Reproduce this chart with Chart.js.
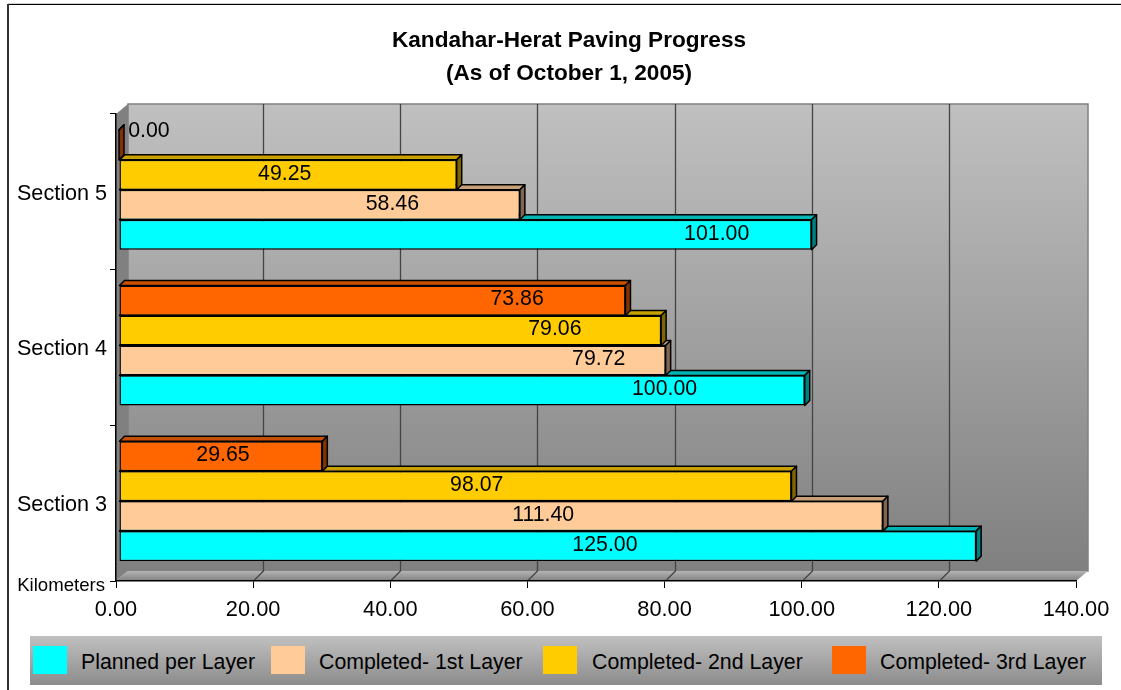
<!DOCTYPE html>
<html>
<head>
<meta charset="utf-8">
<title>Kandahar-Herat Paving Progress</title>
<script src="https://cdn.jsdelivr.net/npm/chart.js@4"></script>
<style>
  html, body { margin: 0; background: #fff; }
  body { position: relative; width: 1121px; height: 690px; overflow: hidden; font-family: "Liberation Sans", Arial, sans-serif; }
  canvas { position: absolute; left: 0; top: 0; }
  #legend { position: absolute; left: 30px; top: 636px; width: 1072px; height: 49px; background: linear-gradient(#c0c0c0, #8c8c8c); }
  #legend i { position: absolute; top: 10px; width: 34px; height: 28px; }
  #legend span { position: absolute; top: 13px; font-size: 21.3px; line-height: 26px; white-space: nowrap; color: #000; }
</style>
</head>
<body>
<canvas id="chart" width="1121" height="690"></canvas>
<div id="legend"></div>
<script>
// data, bottom section first
const sections = ['Section 3', 'Section 4', 'Section 5']
const planned = [125.00, 100.00, 101.00]
const firstLayer = [111.40, 79.72, 58.46]
const secondLayer = [98.07, 79.06, 49.25]
const thirdLayer = [29.65, 73.86, 0.00]
const seriesNames = ['Planned per Layer', 'Completed- 1st Layer', 'Completed- 2nd Layer', 'Completed- 3rd Layer']
const xTicks = [0, 20, 40, 60, 80, 100, 120, 140]

// colours: front, top face, side face
const fronts = ['#00ffff', '#ffcc99', '#ffcc00', '#ff6600']
const tops = ['#00b4b4', '#c8a078', '#c8a000', '#c85000']
const sides = ['#008080', '#806650', '#806600', '#803300']

// where the value labels sit, in km along the axis (hand placed in the original)
const labelSpots = [
  [71.3, 80.0, 87.6],
  [62.3, 70.4, 40.3],
  [52.6, 64.0, 24.6],
  [15.6, 58.5, 4.8]
]

const FONT = '"Liberation Sans", Arial, sans-serif'
const BAR_DX = 3, BAR_DY = -2, DEPTH = 5

const poly = (ctx, points, fill, stroke) => {
  ctx.beginPath()
  points.forEach((p, i) => i ? ctx.lineTo(p[0], p[1]) : ctx.moveTo(p[0], p[1]))
  ctx.closePath()
  if (fill) { ctx.fillStyle = fill; ctx.fill() }
  if (stroke) { ctx.strokeStyle = stroke; ctx.stroke() }
}

// frame, back wall, side wall, floor
const wallsPlugin = {
  id: 'walls',
  beforeDraw(chart) {
    const { ctx, chartArea: a, scales } = chart
    const dx = 12, dy = 10
    ctx.save()
    ctx.fillStyle = '#d0d0d0'
    ctx.fillRect(8, 3, 1113, 1)
    ctx.fillStyle = '#000'
    ctx.fillRect(8, 4, 1113, 1)
    ctx.fillStyle = '#333'
    ctx.fillRect(7, 4, 2, 686)

    const wall = ctx.createLinearGradient(0, a.top - dy, 0, a.bottom - dy)
    wall.addColorStop(0, '#c0c0c0')
    wall.addColorStop(1, '#808080')
    ctx.fillStyle = wall
    ctx.fillRect(a.left + dx, a.top - dy, a.width, a.height)
    ctx.strokeStyle = '#808080'
    ctx.lineWidth = 1.5
    ctx.strokeRect(a.left + dx, a.top - dy, a.width, a.height)

    poly(ctx, [[a.left, a.top], [a.left + dx, a.top - dy], [a.left + dx, a.bottom - dy], [a.left, a.bottom]], '#808080')
    const floor = ctx.createLinearGradient(0, a.bottom - dy, 0, a.bottom)
    floor.addColorStop(0, '#b4b4b4')
    floor.addColorStop(1, '#808080')
    poly(ctx, [[a.left, a.bottom], [a.left + dx, a.bottom - dy], [a.right + dx, a.bottom - dy], [a.right, a.bottom]], floor)

    ctx.strokeStyle = '#444'
    ctx.lineWidth = 1.3
    xTicks.slice(1, -1).forEach(v => {
      const x = Math.round(scales.x.getPixelForValue(v)) + 0.5
      ctx.beginPath()
      ctx.moveTo(x + 10, a.top - dy)
      ctx.lineTo(x + 10, a.bottom - dy)
      ctx.lineTo(x, a.bottom)
      ctx.stroke()
    })
    ctx.restore()
  }
}

// series index of a dataset: the chart stacks them top to bottom, so 3rd layer comes first
const seriesOf = datasetIndex => seriesNames.length - 1 - datasetIndex

// top and side faces go behind the chart's own bars, the value labels on top
const barsPlugin = {
  id: 'bars3d',
  beforeDatasetsDraw(chart) {
    const { ctx } = chart
    ctx.save()
    ctx.translate(BAR_DX, BAR_DY)
    ctx.lineWidth = 1.5
    ctx.lineJoin = 'round'
    for (let i = chart.data.datasets.length - 1; i >= 0; i--) {
      const s = seriesOf(i)
      chart.getDatasetMeta(i).data.forEach(bar => {
        const yTop = bar.y - bar.height / 2
        const yBot = bar.y + bar.height / 2
        poly(ctx, [[bar.base, yTop], [bar.base + DEPTH, yTop - DEPTH], [bar.x + DEPTH, yTop - DEPTH], [bar.x, yTop]], tops[s], '#000')
        poly(ctx, [[bar.x, yTop], [bar.x + DEPTH, yTop - DEPTH], [bar.x + DEPTH, yBot - DEPTH], [bar.x, yBot]], sides[s], '#000')
      })
    }
  },
  afterDatasetsDraw(chart) {
    const { ctx, scales, chartArea: a } = chart
    ctx.restore()
    ctx.save()
    ctx.fillStyle = '#000'
    ctx.textAlign = 'center'
    ctx.textBaseline = 'middle'
    ctx.font = '21.3px ' + FONT
    chart.data.datasets.forEach((ds, i) => {
      chart.getDatasetMeta(i).data.forEach((bar, j) => {
        // the 0.00 label floats up level with the stub of its bar
        const lift = ds.data[j] === 0 ? 13 : 0
        ctx.fillText(ds.data[j].toFixed(2), scales.x.getPixelForValue(labelSpots[seriesOf(i)][j]), bar.y + BAR_DY - 1 - lift)
      })
    })
    ctx.textAlign = 'right'
    ctx.font = '18.6px ' + FONT
    ctx.fillText('Kilometers', 105, a.bottom + 5)
    ctx.restore()
  }
}

new Chart(document.getElementById('chart'), {
  type: 'bar',
  data: {
    labels: sections,
    datasets: [thirdLayer, secondLayer, firstLayer, planned].map((values, i) => ({
      label: seriesNames[seriesOf(i)],
      data: values,
      backgroundColor: fronts[seriesOf(i)],
      borderColor: '#000',
      borderWidth: 1.4,
      borderSkipped: false,
      categoryPercentage: 0.77,
      barPercentage: 1
    }))
  },
  plugins: [wallsPlugin, barsPlugin],
  options: {
    indexAxis: 'y',
    responsive: false,
    animation: false,
    devicePixelRatio: 1,
    layout: { padding: { left: 17, right: 0, top: 0, bottom: 0 } },
    plugins: {
      legend: { display: false },
      tooltip: { enabled: false },
      title: {
        display: true,
        text: ['Kandahar-Herat Paving Progress', '(As of October 1, 2005)'],
        color: '#000',
        font: { family: FONT, size: 22.6, weight: 'bold', lineHeight: 1.46 },
        padding: { top: 24, bottom: 24 }
      }
    },
    scales: {
      x: {
        type: 'linear',
        min: 0,
        max: 140,
        afterFit: scale => { scale.height = 109; scale.paddingRight = 45 },
        afterBuildTicks: scale => { scale.ticks = xTicks.map(value => ({ value })) },
        grid: { drawOnChartArea: false, color: '#000', tickLength: 7, tickColor: '#000' },
        border: { color: '#000', width: 1.5 },
        ticks: {
          color: '#000',
          font: { family: FONT, size: 21.8 },
          padding: 9,
          maxRotation: 0,
          callback: value => value.toFixed(2)
        }
      },
      y: {
        reverse: true,
        afterFit: scale => { scale.width = 99 },
        grid: { drawOnChartArea: false, color: '#000', tickLength: 6, tickColor: '#000' },
        border: { color: '#000', width: 1.5 },
        ticks: { color: '#000', font: { family: FONT, size: 21.6 }, padding: 3, labelOffset: 2 }
      }
    }
  }
})

// legend, spaced like the original strip
const legend = document.getElementById('legend')
const swatchLefts = [3, 241, 513, 802]
const textLefts = [51, 289, 562, 850]
seriesNames.forEach((name, i) => {
  const box = document.createElement('i')
  box.style.left = swatchLefts[i] + 'px'
  box.style.background = fronts[i]
  legend.appendChild(box)
  const text = document.createElement('span')
  text.style.left = textLefts[i] + 'px'
  text.textContent = name
  legend.appendChild(text)
})
</script>
</body>
</html>
